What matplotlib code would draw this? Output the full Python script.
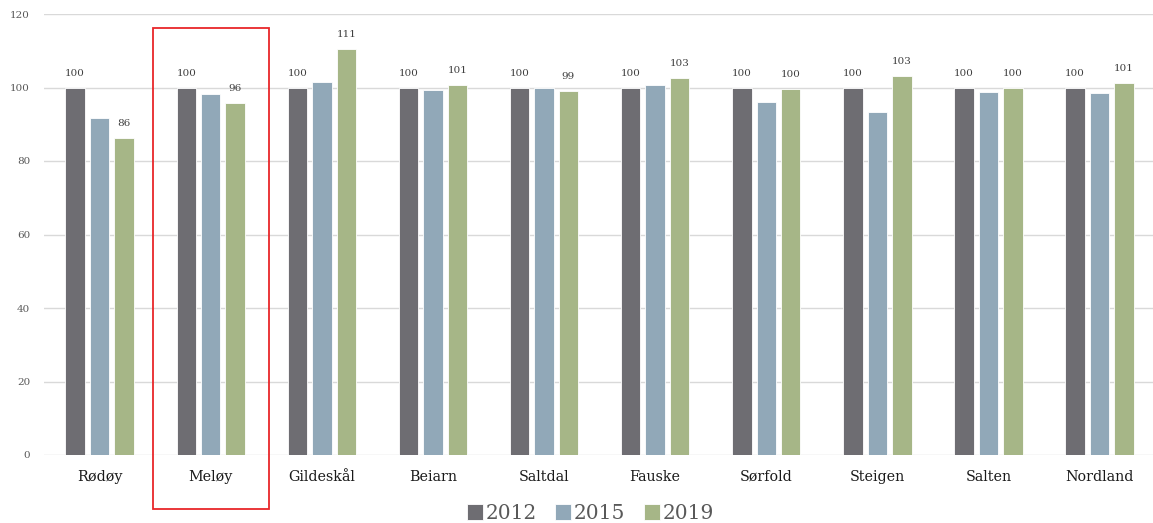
import numpy as np
import matplotlib.pyplot as plt
from matplotlib.patches import Rectangle

plt.rcParams['font.family'] = ['DejaVu Serif']

kommuner = ['Rødøy', 'Meløy', 'Gildeskål', 'Beiarn', 'Saltdal',
            'Fauske', 'Sørfold', 'Steigen', 'Salten', 'Nordland']
years = ['2012', '2015', '2019']
v2012 = [100, 100, 100, 100, 100, 100, 100, 100, 100, 100]
v2015 = [91.7, 98.2, 101.4, 99.3, 100.0, 100.7, 96.0, 93.2, 98.8, 98.5]
v2019 = [86.3, 95.9, 110.6, 100.7, 99.1, 102.6, 99.6, 103.1, 100.0, 101.2]
colors = ['#6e6d72', '#91a8b8', '#a6b687']

fig = plt.figure(figsize=(11.53, 5.23), dpi=100)
ax = fig.add_axes([44 / 1153, 1 - 455 / 523, 1109 / 1153, 441 / 523])

x = np.arange(len(kommuner))
w = 0.175
step = 0.22
series = [v2012, v2015, v2019]
for i, (vals, c, lab) in enumerate(zip(series, colors, years)):
    bars = ax.bar(x + (i - 1) * step, vals, w, color=c, label=lab,
                  edgecolor='white', linewidth=0.6, zorder=3)
    if i != 1:
        for b, v in zip(bars, vals):
            ax.annotate(f'{v:.0f}', (b.get_x() + b.get_width() / 2, v),
                        xytext=(0, 7), textcoords='offset points',
                        ha='center', va='bottom', fontsize=7.5,
                        color='#404040')

ax.set_xlim(-0.5, 9.48)
ax.set_ylim(0, 120)
ax.set_yticks(range(0, 121, 20))
ax.yaxis.grid(True, color='#d9d9d9', linewidth=1, zorder=0)
for s in ax.spines.values():
    s.set_visible(False)
ax.tick_params(axis='y', length=0, labelsize=7.5, labelcolor='#595959', pad=10)
ax.tick_params(axis='x', length=0, labelsize=10.3, labelcolor='#1a1a1a', pad=18.5)
ax.set_xticks(x)
ax.set_xticklabels(kommuner)
for t in ax.get_xticklabels():
    t.set_va('baseline')

# highlight box around Meløy
ax.add_patch(Rectangle((0.48, -14.7), 1.045, 130.9, fill=False,
                       edgecolor='#e8262a', linewidth=1.3, clip_on=False,
                       zorder=5))

handles, labels = ax.get_legend_handles_labels()
fig.legend(handles, labels, loc='lower center', bbox_to_anchor=(0.512, -0.035),
           ncol=3, frameon=False, fontsize=14.5, handlelength=0.8,
           handleheight=0.8, handletextpad=0.15, columnspacing=0.9,
           labelcolor='#595959')

fig.savefig('out.png', dpi=100)
